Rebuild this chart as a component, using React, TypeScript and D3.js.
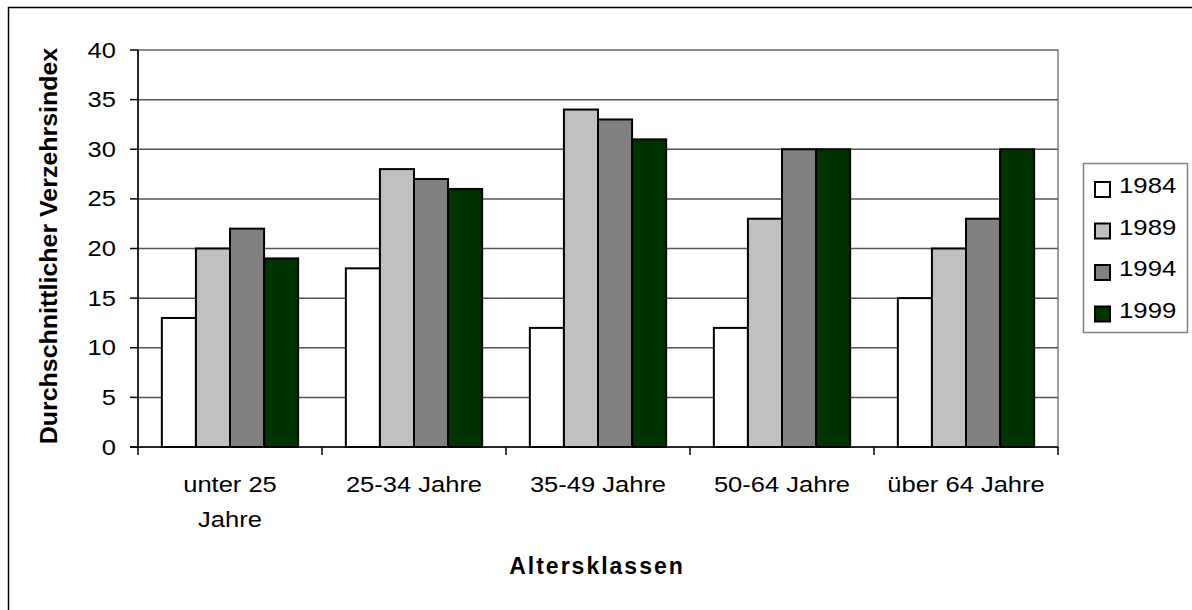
import React from "react";
import * as d3 from "d3";

const categories: string[][] = [
  ["unter 25", "Jahre"],
  ["25-34 Jahre"],
  ["35-49 Jahre"],
  ["50-64 Jahre"],
  ["über 64 Jahre"],
];
const seriesNames = ["1984", "1989", "1994", "1999"];
const seriesColors = ["#FFFFFF", "#C0C0C0", "#808080", "#003300"];
const values1984 = [13, 18, 12, 12, 15];
const values1989 = [20, 28, 34, 23, 20];
const values1994 = [22, 27, 33, 30, 23];
const values1999 = [19, 26, 31, 30, 30];
const seriesValues = [values1984, values1989, values1994, values1999];
const yTicks = [0, 5, 10, 15, 20, 25, 30, 35, 40];
const yTitle = "Durchschnittlicher Verzehrsindex";
const xTitle = "Altersklassen";

const FONT = "'Liberation Sans', Arial, sans-serif";

const T = ({ x, y, anchor = "start", size = 22, weight = "normal", sx = 1.16, rotate = 0, ls = 0, children }: any) => (
  <text
    transform={`translate(${x},${y})${rotate ? ` rotate(${rotate})` : ""} scale(${sx},1)`}
    textAnchor={anchor}
    fontSize={size}
    fontWeight={weight}
    fontFamily={FONT}
    letterSpacing={ls}
    fill="#000"
  >
    {children}
  </text>
);

export default function App() {
  const W = 1192, H = 610;
  const left = 138, right = 1058, top = 50, bottom = 447;
  const keys = categories.map((c) => c.join(" "));
  const x0 = d3.scaleBand<string>().domain(keys).range([left, right]).paddingInner(0).paddingOuter(0);
  const x1 = d3.scaleBand<string>().domain(seriesNames).range([0, x0.bandwidth()]).paddingInner(0).paddingOuter(0.7);
  const y = d3.scaleLinear().domain([0, 40]).range([bottom, top]);

  return (
    <svg width={W} height={H} style={{ position: "absolute", left: 0, top: 0, background: "#fff" }}>
      <rect x={8.5} y={7.5} width={1300} height={700} fill="#fff" stroke="#000" strokeWidth={1.5} />
      <rect x={left} y={top} width={right - left} height={bottom - top} fill="#fff" stroke="#808080" strokeWidth={1.5} />
      {yTicks.filter((t) => t > 0).map((t) => (
        <line key={t} x1={left} x2={right} y1={y(t)} y2={y(t)} stroke={t === 40 ? "#808080" : "#555"} strokeWidth={1.5} />
      ))}
      {keys.map((k, ci) => (
        <g key={k}>
          {seriesNames.map((s, si) => {
            const v = seriesValues[si][ci];
            return (
              <rect
                key={s}
                x={(x0(k) as number) + (x1(s) as number)}
                y={y(v)}
                width={x1.bandwidth()}
                height={y(0) - y(v)}
                fill={seriesColors[si]}
                stroke="#000"
                strokeWidth={2}
              />
            );
          })}
        </g>
      ))}
      <line x1={left} x2={left} y1={top} y2={bottom} stroke="#000" strokeWidth={1.5} />
      <line x1={left - 8} x2={right} y1={bottom} y2={bottom} stroke="#000" strokeWidth={1.5} />
      {yTicks.map((t) => (
        <g key={t}>
          <line x1={left - 8} x2={left} y1={y(t)} y2={y(t)} stroke="#000" strokeWidth={1.5} />
          <T x={116} y={y(t) + 7.5} anchor="end">{t}</T>
        </g>
      ))}
      {keys.map((k, i) => (
        <line key={"t" + i} x1={x0(k) as number} x2={x0(k) as number} y1={bottom} y2={bottom + 8} stroke="#000" strokeWidth={1.5} />
      ))}
      <line x1={right} x2={right} y1={bottom} y2={bottom + 8} stroke="#000" strokeWidth={1.5} />
      {categories.map((lines, i) => (
        <g key={"c" + i}>
          {lines.map((ln, li) => (
            <T key={li} x={(x0(keys[i]) as number) + x0.bandwidth() / 2} y={492 + li * 35} anchor="middle">
              {ln}
            </T>
          ))}
        </g>
      ))}
      <T x={597} y={574} anchor="middle" size={23} weight="bold" sx={1} ls={2}>{xTitle}</T>
      <T x={57} y={246} anchor="middle" size={24} weight="bold" sx={1.04} rotate={-90}>{yTitle}</T>
      <rect x={1083.5} y={163.5} width={104} height={169} fill="#fff" stroke="#808080" strokeWidth={1.5} />
      {seriesNames.map((s, i) => {
        const by = 193 + i * 41.5;
        return (
          <g key={s}>
            <rect x={1095} y={by - 11} width={15} height={15} fill={seriesColors[i]} stroke="#000" strokeWidth={2} />
            <T x={1119} y={by} size={23} sx={1.12}>{s}</T>
          </g>
        );
      })}
    </svg>
  );
}
